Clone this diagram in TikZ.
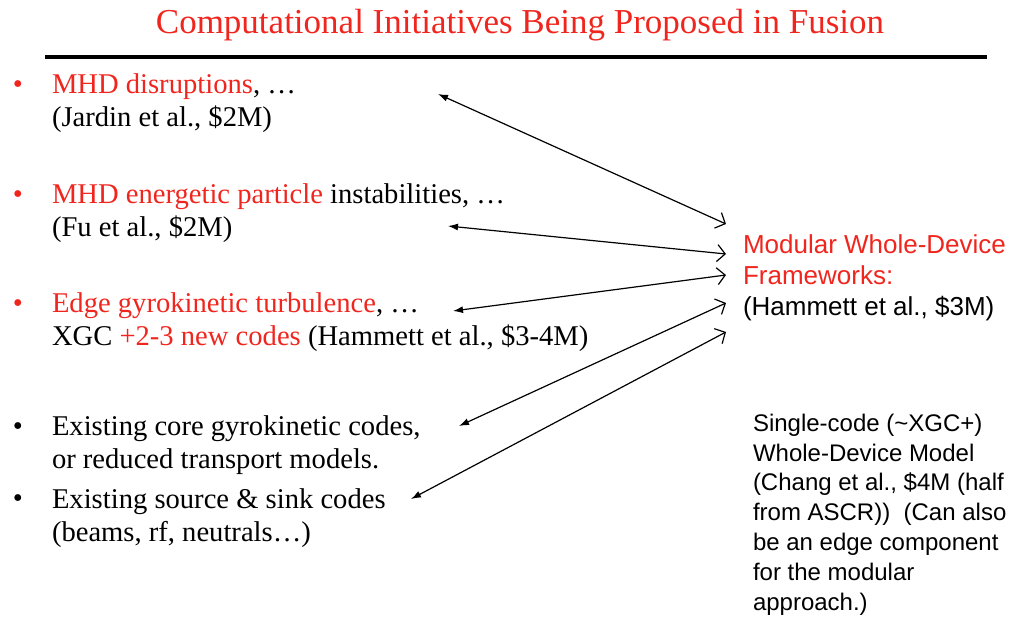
\documentclass[tikz,border=0pt]{standalone}
\usepackage{fontspec}
\setmainfont{Liberation Serif}
\setsansfont{Liberation Sans}
\usetikzlibrary{positioning,arrows.meta}
\definecolor{slidered}{RGB}{240,38,30}

\begin{document}
\begin{tikzpicture}[x=1pt,y=-1pt,
  every node/.style={inner sep=0pt,outer sep=0pt},
  item/.style={anchor=base west,align=left,font=\fontsize{28.6}{33}\selectfont},
  dot/.style={anchor=base,font=\fontsize{28.6}{33}\selectfont},
  side/.style={anchor=base west,align=left,font=\sffamily\fontsize{26}{31}\selectfont},
  note/.style={anchor=base west,align=left,font=\sffamily\fontsize{24}{29.8}\selectfont},
  link/.style={{Latex[length=10pt,width=7pt]}-{Straight Barb[length=8pt,width=17pt]},line width=1.2pt}]
\useasboundingbox (0,0) rectangle (1029,629);

% title and rule
\node[anchor=base,text=slidered,font=\fontsize{35}{40}\selectfont] (title) at (520,33) {Computational Initiatives Being Proposed in Fusion};
\draw[line width=4pt] (45,57) coordinate (ruleL) -- (987,57) coordinate (ruleR);

% left column (nodes sit on the baseline of their last line)
\node[dot,text=slidered] (b1) at (18,93) {•};
\node[item] (mhd) at (52,126) {\textcolor{slidered}{MHD disruptions}, …\\(Jardin et al., \$2M)};
\node[dot,text=slidered] (b2) at (18,203) {•};
\node[item] (fu) at (52,236) {\textcolor{slidered}{MHD energetic particle} instabilities, …\\(Fu et al., \$2M)};
\node[dot,text=slidered] (b3) at (18,312) {•};
\node[item] (edge) at (52,345) {\textcolor{slidered}{Edge gyrokinetic turbulence}, …\\XGC \textcolor{slidered}{+2-3 new codes} (Hammett et al., \$3-4M)};
\node[dot] (b4) at (18,435) {•};
\node[item] (core) at (52,468) {Existing core gyrokinetic codes,\\or reduced transport models.};
\node[dot] (b5) at (18,507) {•};
\node[item] (src) at (52,541) {Existing source \& sink codes\\(beams, rf, neutrals…)};

% right column
\node[side] (frame) at (743,315) {\textcolor{slidered}{Modular Whole-Device}\\\textcolor{slidered}{Frameworks:}\\(Hammett et al., \$3M)};
\node[note] (single) at (753,610) {Single-code (\textasciitilde XGC+)\\Whole-Device Model\\(Chang et al., \$4M (half\\from ASCR))\ \ (Can also\\be an edge component\\for the modular\\approach.)};

% arrow ends
\coordinate (l1) at (438,94);
\coordinate (l2) at (448,226);
\coordinate (l3) at (453,311);
\coordinate (l4) at (459,426);
\coordinate (l5) at (411,499);
\coordinate (r1) at (726,224);
\coordinate (r2) at (726,254);
\coordinate (r3) at (726,275);
\coordinate (r4) at (726,303);
\coordinate (r5) at (726,332);

\draw[link] (l1) -- (r1);
\draw[link] (l2) -- (r2);
\draw[link] (l3) -- (r3);
\draw[link] (l4) -- (r4);
\draw[link] (l5) -- (r5);
\end{tikzpicture}
\end{document}
